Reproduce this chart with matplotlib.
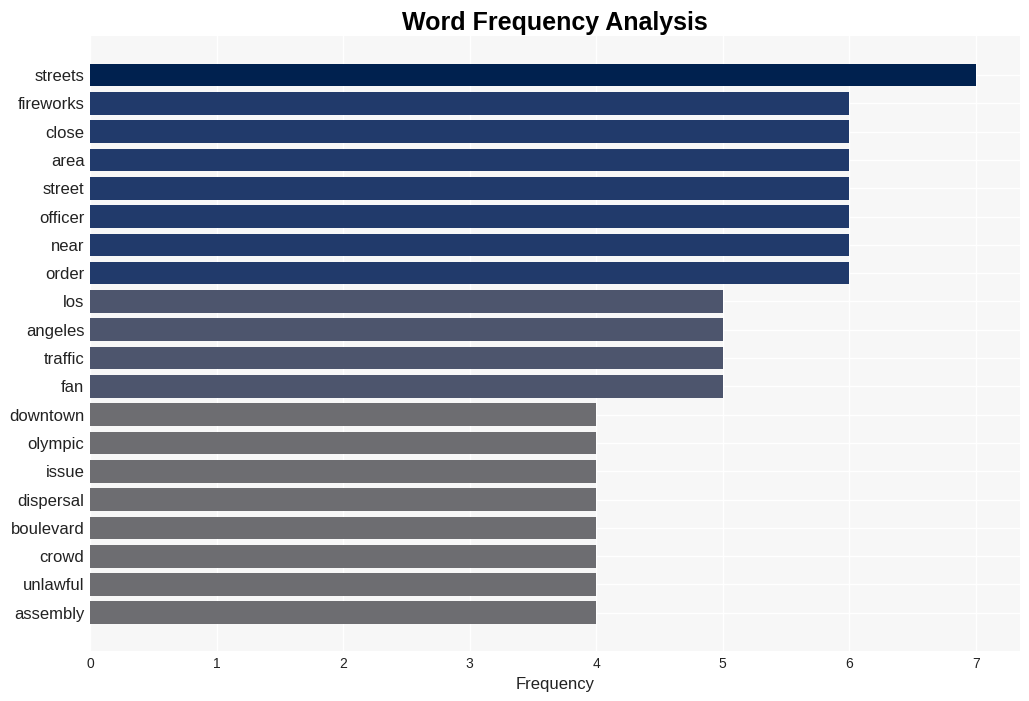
import matplotlib
matplotlib.use("Agg")
import matplotlib.pyplot as plt

words = ["streets", "fireworks", "close", "area", "street", "officer", "near", "order",
         "los", "angeles", "traffic", "fan", "downtown", "olympic", "issue", "dispersal",
         "boulevard", "crowd", "unlawful", "assembly"]
counts = [7, 6, 6, 6, 6, 6, 6, 6, 5, 5, 5, 5, 4, 4, 4, 4, 4, 4, 4, 4]
color_map = {7: "#00214f", 6: "#213a6b", 5: "#4d556d", 4: "#6d6d71"}

plt.rcParams["font.family"] = ["Liberation Sans", "DejaVu Sans"]

fig = plt.figure(figsize=(10.29, 7.01), dpi=100)
ax = fig.add_axes([90 / 1029, 1 - 651 / 701, (1020 - 90) / 1029, (651 - 36) / 701])
ax.set_facecolor("#f7f7f7")

ypos = list(range(len(words)))
ax.barh(ypos, counts, height=0.8, color=[color_map[c] for c in counts], zorder=3)
ax.set_yticks(ypos)
ax.set_yticklabels(words, fontsize=12, color="#222222")
ax.set_ylim(len(words) - 1 + 1.35, -1.38)
ax.set_xlim(0, 7.35)
ax.set_xticks(range(0, 8))
ax.tick_params(axis="x", labelsize=10, colors="#222222", length=0, pad=4)
ax.tick_params(axis="y", length=0, pad=4)
ax.grid(True, color="white", linewidth=1, zorder=0)
for s in ax.spines.values():
    s.set_visible(False)
ax.set_xlabel("Frequency", fontsize=12, color="#222222", labelpad=5)
fig.suptitle("Word Frequency Analysis", fontsize=18, fontweight="bold", y=0.985, x=(90 + 1020) / 2 / 1029)
fig.savefig("out.png", dpi=100, facecolor="white")
